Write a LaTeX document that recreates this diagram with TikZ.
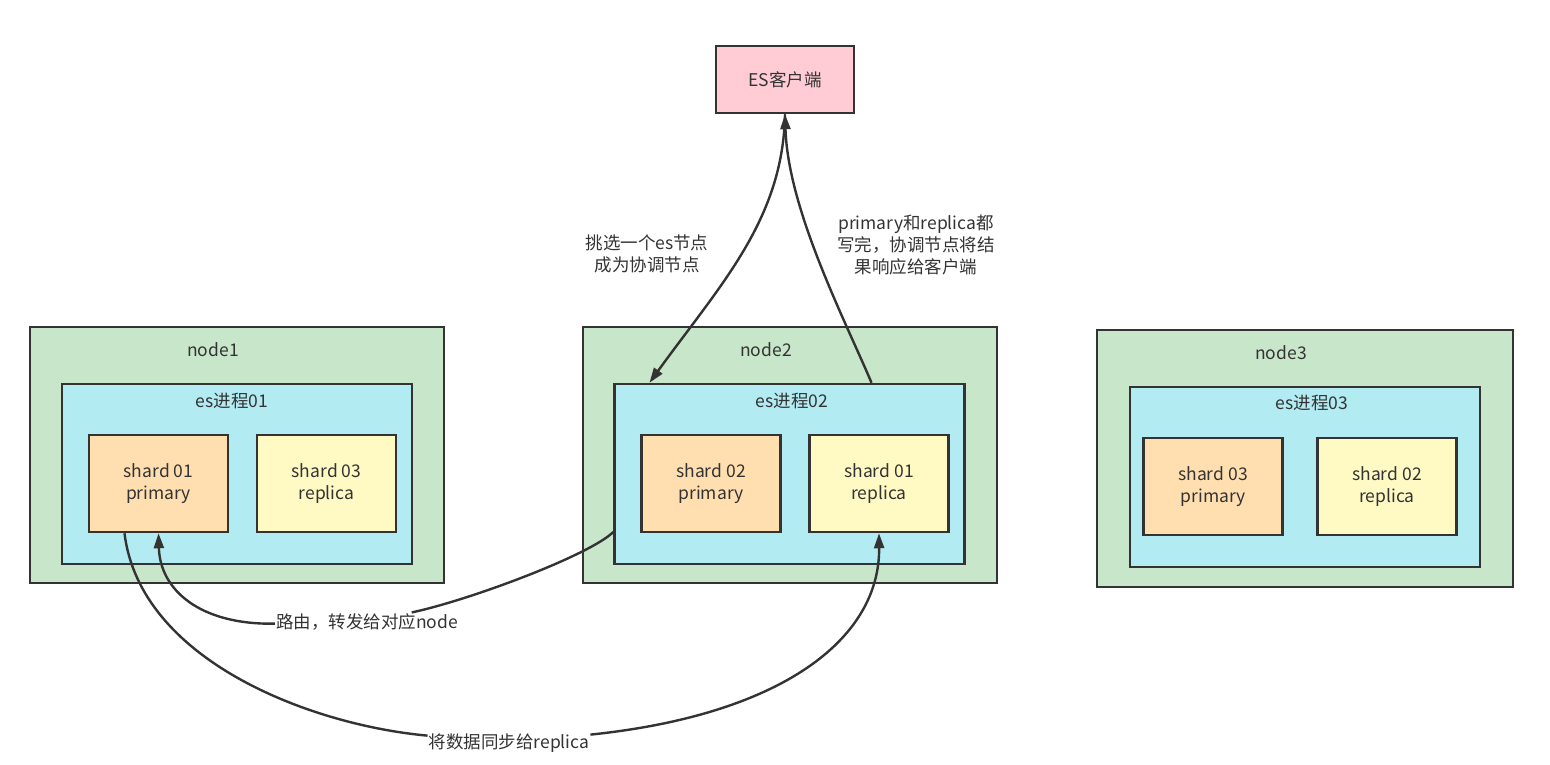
\documentclass[tikz,border=0pt]{standalone}
\usepackage{fontspec}
\setmainfont{Noto Sans CJK SC}
\usetikzlibrary{arrows.meta}
\definecolor{hostgreen}{HTML}{C8E6C9}
\definecolor{procblue}{HTML}{B2EBF2}
\definecolor{primorange}{HTML}{FFDFB0}
\definecolor{replyellow}{HTML}{FFF9C4}
\definecolor{clientpink}{HTML}{FFCCD5}
\definecolor{linegray}{HTML}{333333}
\begin{document}
\begin{tikzpicture}[
        x=1pt, y=-1pt,
        box/.style={draw=linegray, line width=2.5pt, inner sep=0pt, align=center, text=linegray, font=\fontsize{17.5}{22}\selectfont},
        hostbox/.style={box, fill=hostgreen, minimum width=414pt, minimum height=256pt},
        procbox/.style={box, fill=procblue, minimum width=350pt, minimum height=180pt},
        primarybox/.style={box, fill=primorange, minimum width=139pt, minimum height=97pt},
        replicabox/.style={box, fill=replyellow, minimum width=139pt, minimum height=97pt},
        clientbox/.style={box, fill=clientpink, minimum width=138pt, minimum height=67pt},
        title/.style={text=linegray, font=\fontsize{17.5}{22}\selectfont, inner sep=1pt},
        note/.style={text=linegray, font=\fontsize{17.5}{22}\selectfont, align=center, inner sep=2pt},
        edgelabel/.style={note, fill=white, inner sep=1pt},
        >={Triangle[length=15pt,width=10pt]},
        flow/.style={->, draw=linegray, line width=2.4pt}
    ]
        \useasboundingbox (0,0) rectangle (1550,765);

        \node[clientbox] (client) at (785,79.5) {ES客户端};

        % node1
        \node[hostbox] (host1) at (237,455) {};
        \node[title] (host1t) at (213,350) {node1};
        \node[procbox] (proc1) at (237,474) {};
        \node[title] (proc1t) at (232,401) {es进程01};
        \node[primarybox] (s01p) at (158.5,483.5) {shard 01\\primary};
        \node[replicabox] (s03r) at (326.5,483.5) {shard 03\\replica};

        % node2
        \node[hostbox] (host2) at (790,455) {};
        \node[title] (host2t) at (766,350) {node2};
        \node[procbox] (proc2) at (789.5,474) {};
        \node[title] (proc2t) at (792,401) {es进程02};
        \node[primarybox] (s02p) at (711,483.5) {shard 02\\primary};
        \node[replicabox] (s01r) at (879,483.5) {shard 01\\replica};

        % node3
        \node[hostbox, minimum width=416pt, minimum height=257pt] (host3) at (1305,458.5) {};
        \node[title] (host3t) at (1281,353) {node3};
        \node[procbox] (proc3) at (1305,477) {};
        \node[title] (proc3t) at (1312,403) {es进程03};
        \node[primarybox] (s03p) at (1213,486.5) {shard 03\\primary};
        \node[replicabox] (s02r) at (1387,486.5) {shard 02\\replica};

        % annotations
        \node[note] (pick) at (647,254) {挑选一个es节点\\成为协调节点};
        \node[note] (reply) at (916,245) {primary和replica都\\写完，协调节点将结\\果响应给客户端};
        \node[edgelabel] (route) at (367,622) {路由，转发给对应node};
        \node[edgelabel] (sync) at (509,743) {将数据同步给replica};

        % connectors
        \draw[flow] (client.south) .. controls (783,220) and (720,285) .. ([xshift=-140pt]proc2.north);
        \draw[flow] ([xshift=82pt]proc2.north) .. controls (845,320) and (788,210) .. (client.south);
        \draw[flow] ([yshift=-58pt]proc2.west) .. controls (590,555) and (470,600) .. (route)
            .. controls (200,625) and (160,590) .. (s01p.south);
        \draw[flow] ([xshift=-34pt]s01p.south) .. controls (140,660) and (310,725) .. (sync)
            .. controls (780,715) and (880,640) .. (s01r.south);
    \end{tikzpicture}
\end{document}
